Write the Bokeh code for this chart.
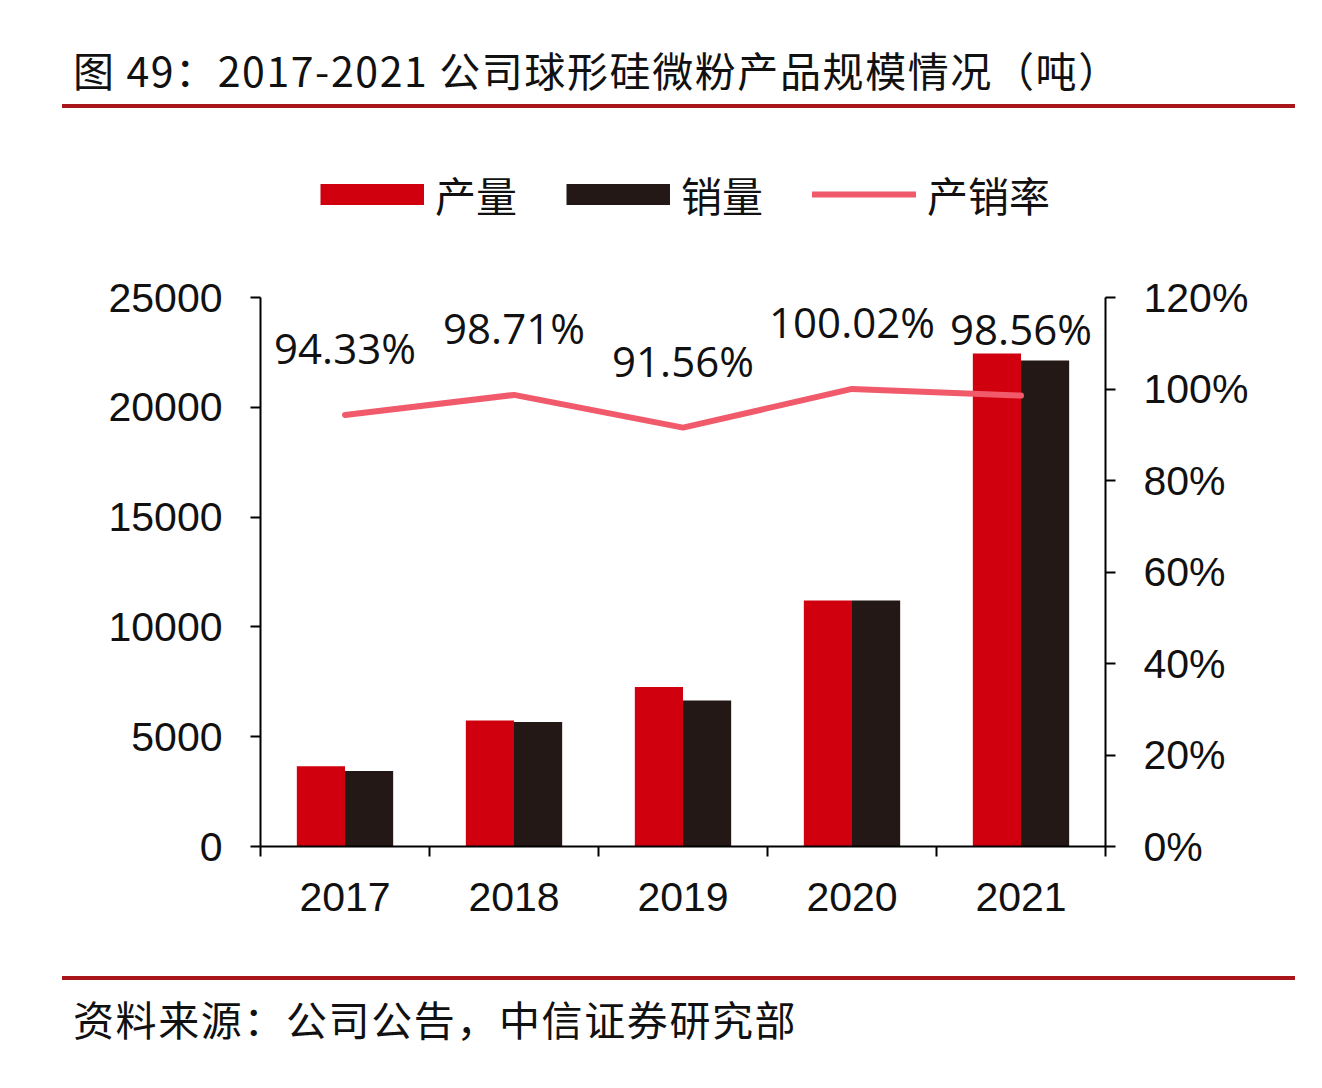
from bokeh.plotting import figure
from bokeh.layouts import column
from bokeh.models import (Range1d, LinearAxis, FixedTicker, Div,
                          Legend, LegendItem, NumeralTickFormatter, PrintfTickFormatter)
from bokeh.core.properties import value
from bokeh.embed import file_html
from bokeh.resources import INLINE

# ---------------- data ----------------
years = ["2017", "2018", "2019", "2020", "2021"]
production = [3650, 5740, 7260, 11200, 22450]      # 产量 (吨)
sales = [3443, 5666, 6647, 11202, 22127]           # 销量 (吨)
rate = [94.33, 98.71, 91.56, 100.02, 98.56]        # 产销率 (%)
rate_labels = ["94.33%", "98.71%", "91.56%", "100.02%", "98.56%"]
left_ticks = [0, 5000, 10000, 15000, 20000, 25000]
right_ticks = [0, 20, 40, 60, 80, 100, 120]
title_text = "图 49：2017-2021 公司球形硅微粉产品规模情况（吨）"
source_text = "资料来源：公司公告，中信证券研究部"
legend_names = ["产量", "销量", "产销率"]

# ---------------- style ----------------
RED = "#d0000f"
DARK = "#231815"
PINK = "#f05a6a"
RULE = "#a8161b"
TXT = "#111111"
CJK = "Noto Sans CJK SC"
NUM = "Liberation Sans"
W = 1306
H_HDR, H_LEG, H_MAIN, H_FTR = 110, 150, 670, 150
FRAME_L, FRAME_R, FRAME_T, FRAME_B = 260, 1105, 297, 846

# ---------------- header (title + rule) ----------------
hdr_html = (
    f'<div style="position:relative;width:{W}px;height:{H_HDR}px;">'
    f'<div style="position:absolute;left:73px;top:49px;font-family:\'{CJK}\';'
    f'font-size:41px;line-height:41px;letter-spacing:1.6px;color:{TXT};'
    f'white-space:nowrap;">{title_text}</div>'
    f'<div style="position:absolute;left:62px;top:104px;width:1233px;height:4px;'
    f'background:{RULE};"></div></div>'
)
hdr = Div(text=hdr_html, width=W, height=H_HDR, margin=0)

# ---------------- legend strip ----------------
leg_fig = figure(width=W, height=H_LEG, output_backend="svg", toolbar_location=None,
                 x_range=Range1d(0, 1), y_range=Range1d(0, 1),
                 x_axis_type=None, y_axis_type=None,
                 min_border_left=FRAME_L, min_border_right=W - FRAME_R,
                 min_border_top=0, min_border_bottom=0)
leg_fig.grid.visible = False
leg_fig.outline_line_color = None
nan = [float("nan")]
sw_prod = leg_fig.line(x=nan, y=nan, line_color=RED, line_width=21, line_cap="butt")
sw_sale = leg_fig.line(x=nan, y=nan, line_color=DARK, line_width=21, line_cap="butt")
sw_rate = leg_fig.line(x=nan, y=nan, line_color=PINK, line_width=6, line_cap="round")
leg = Legend(items=[LegendItem(label=legend_names[0], renderers=[sw_prod]),
                    LegendItem(label=legend_names[1], renderers=[sw_sale]),
                    LegendItem(label=legend_names[2], renderers=[sw_rate])],
             location=(320 - FRAME_L, (H_HDR + H_LEG) - 198.5 - 25),
             orientation="horizontal",
             glyph_width=104, glyph_height=50, label_standoff=11, spacing=49,
             padding=0, margin=0, border_line_color=None, background_fill_alpha=0,
             label_text_font=CJK, label_text_font_size="41px",
             label_text_color=TXT, label_text_baseline="middle")
leg_fig.add_layout(leg, "center")

# ---------------- main chart ----------------
Y_MAIN = H_HDR + H_LEG
p = figure(width=W, height=H_MAIN, output_backend="svg", toolbar_location=None,
           x_range=Range1d(0, len(years)), y_range=Range1d(0, 25000),
           min_border_left=FRAME_L, min_border_right=W - FRAME_R,
           min_border_top=FRAME_T - Y_MAIN, min_border_bottom=Y_MAIN + H_MAIN - FRAME_B)
p.extra_y_ranges = {"pct": Range1d(0, 120)}
p.grid.visible = False
p.outline_line_color = None

centers = [i + 0.5 for i in range(len(years))]
bw = 0.285

p.vbar(x=[c - bw / 2 for c in centers], top=production, width=bw,
       fill_color=RED, line_color=None)
p.vbar(x=[c + bw / 2 for c in centers], top=sales, width=bw,
       fill_color=DARK, line_color=None)
p.line(x=centers, y=rate, y_range_name="pct", line_color=PINK,
       line_width=6, line_cap="round", line_join="round")
p.text(x=centers, y=rate, text=rate_labels, y_range_name="pct",
       text_align="center", text_baseline="middle", y_offset=-67,
       text_font=value("Open Sans"), text_font_size="42px", text_color=TXT)

xa = p.xaxis[0]
xa.ticker = FixedTicker(ticks=centers, minor_ticks=list(range(len(years) + 1)))
xa.major_label_overrides = {c: y for c, y in zip(centers, years)}
xa.major_tick_line_color = None
xa.major_tick_out = 10
xa.major_tick_in = 0
xa.minor_tick_line_color = "black"
xa.minor_tick_line_width = 2
xa.minor_tick_out = 10
xa.minor_tick_in = 0
xa.major_label_standoff = 26

ya = p.yaxis[0]
ya.ticker = FixedTicker(ticks=left_ticks)
ya.formatter = NumeralTickFormatter(format="0")
ya.minor_tick_line_color = None
ya.major_tick_out = 10
ya.major_tick_in = 0
ya.major_label_standoff = 28

ra = LinearAxis(y_range_name="pct", ticker=FixedTicker(ticks=right_ticks),
                formatter=PrintfTickFormatter(format="%d%%"))
ra.minor_tick_line_color = None
ra.major_tick_out = 10
ra.major_tick_in = 0
ra.major_label_standoff = 28
p.add_layout(ra, "right")

for ax in (xa, ya, ra):
    ax.axis_line_color = "black"
    ax.axis_line_width = 2
    ax.major_tick_line_width = 2
    ax.major_label_text_font = NUM
    ax.major_label_text_font_size = "41px"
    ax.major_label_text_color = TXT

# ---------------- footer (rule + source) ----------------
Y_FTR = Y_MAIN + H_MAIN
ftr_html = (
    f'<div style="position:relative;width:{W}px;height:{H_FTR}px;">'
    f'<div style="position:absolute;left:62px;top:{976 - Y_FTR}px;width:1233px;height:4px;'
    f'background:{RULE};"></div>'
    f'<div style="position:absolute;left:73px;top:{998 - Y_FTR}px;font-family:\'{CJK}\';'
    f'font-size:41px;line-height:41px;letter-spacing:1.6px;color:{TXT};'
    f'white-space:nowrap;">{source_text}</div>'
    f'</div>'
)
ftr = Div(text=ftr_html, width=W, height=H_FTR, margin=0)

layout = column(hdr, leg_fig, p, ftr, spacing=0)

with open("out.html", "w") as f:
    f.write(file_html(layout, INLINE))
